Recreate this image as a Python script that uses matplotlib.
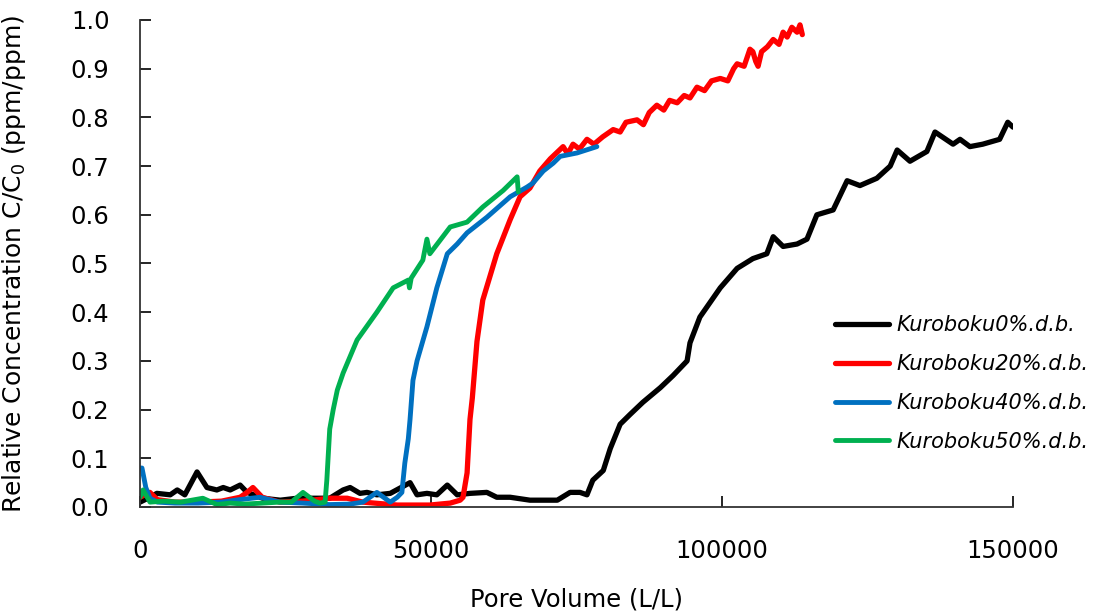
import matplotlib
matplotlib.use('Agg')
import matplotlib.pyplot as plt

# Kuroboku 0% d.b.
pv_0 = [0, 1700, 2900, 5200, 6400, 7700, 9800, 11500, 13200, 14300, 15500, 17200, 18400, 21100,
        24100, 27000, 30400, 32600, 34900, 36100, 37800, 39000, 40700, 43000, 46400, 47600, 49300,
        51000, 52800, 54500, 56700, 59600, 61300, 63600, 67000, 71700, 73900, 75600, 76800, 77800,
        79600, 80800, 82500, 84200, 86400, 89400, 91600, 94000, 94500, 96200, 99700, 102600, 105300,
        107700, 108800, 110500, 112900, 114600, 116300, 119100, 121500, 123700, 126600, 128900,
        130100, 132300, 135200, 136600, 139700, 140900, 142600, 144800, 147700, 149100, 150000]
c_0 = [0.01, 0.02, 0.028, 0.025, 0.035, 0.025, 0.072, 0.04, 0.035, 0.04, 0.035, 0.045, 0.03, 0.018,
       0.014, 0.018, 0.018, 0.018, 0.035, 0.04, 0.028, 0.03, 0.025, 0.028, 0.05, 0.025, 0.028,
       0.025, 0.045, 0.025, 0.028, 0.03, 0.02, 0.02, 0.014, 0.014, 0.03, 0.03, 0.025, 0.055,
       0.075, 0.12, 0.17, 0.19, 0.215, 0.245, 0.27, 0.30, 0.337, 0.39, 0.45, 0.49, 0.51,
       0.52, 0.555, 0.535, 0.54, 0.55, 0.60, 0.61, 0.67, 0.66, 0.675, 0.70,
       0.733, 0.71, 0.73, 0.77, 0.745, 0.755, 0.74, 0.745, 0.755, 0.79, 0.78]

# Kuroboku 20% d.b.
pv_20 = [0, 1700, 3000, 6000, 10000, 14000, 17200, 18400, 19400, 21000, 24000, 28000, 32600, 35600,
         38300, 44200, 49800, 53300, 55000, 55500, 56200, 56700, 57100, 57900, 58900, 61300, 63600,
         65300, 67000, 68700, 70500, 72700, 73500, 74400, 75500, 76800, 78000, 79500, 81300, 82500,
         83500, 85400, 86500, 87500, 88800, 90000, 91000, 92300, 93500, 94500, 95700, 97000, 98200,
         99700, 101000, 102000, 102600, 103800, 104800, 105300, 105800, 106200, 106800, 107800,
         108800, 109800, 110500, 111200, 112000, 112900, 113400, 113800]
c_20 = [0.02, 0.03, 0.015, 0.01, 0.01, 0.012, 0.02, 0.03, 0.04, 0.02, 0.01, 0.012, 0.018, 0.018,
        0.01, 0.004, 0.004, 0.008, 0.014, 0.02, 0.07, 0.18, 0.224, 0.34, 0.425, 0.52, 0.59,
        0.637, 0.655, 0.69, 0.715, 0.74, 0.725, 0.745, 0.735, 0.755, 0.745, 0.76, 0.775, 0.77,
        0.79, 0.795, 0.785, 0.81, 0.825, 0.815, 0.835, 0.83, 0.845, 0.84, 0.862, 0.855, 0.875,
        0.88, 0.875, 0.9, 0.91, 0.905, 0.94, 0.935, 0.915, 0.905, 0.935, 0.945,
        0.96, 0.95, 0.975, 0.965, 0.985, 0.975, 0.99, 0.97]

# Kuroboku 40% d.b.
pv_40 = [0, 340, 1000, 1720, 3000, 6000, 10000, 14000, 17000, 20600, 24000, 28000, 32600, 36100,
         38300, 40700, 43000, 44200, 45000, 45500, 46100, 46400, 46900, 47600, 49300, 51000, 52800,
         54500, 56200, 59600, 63600, 66500, 67500, 69300, 71000, 72200, 75100, 78500]
c_40 = [0.08, 0.08, 0.04, 0.018, 0.01, 0.008, 0.008, 0.01, 0.015, 0.02, 0.01, 0.008, 0.005, 0.006,
        0.01, 0.03, 0.01, 0.02, 0.03, 0.09, 0.14, 0.18, 0.26, 0.30, 0.37, 0.45, 0.52,
        0.54, 0.563, 0.595, 0.637, 0.657, 0.665, 0.69, 0.706, 0.72, 0.727, 0.74]

# Kuroboku 50% d.b.
pv_50 = [0, 520, 1720, 4000, 7000, 10800, 13200, 15500, 18000, 21000, 24000, 26000, 28000, 30000,
         30900, 31800, 32100, 32600, 33200, 33900, 34900, 37300, 40700, 43500, 46100, 46300, 46600,
         48600, 49300, 49800, 53300, 56200, 58900, 62400, 64800, 65000]
c_50 = [0.02, 0.035, 0.01, 0.012, 0.01, 0.018, 0.005, 0.008, 0.006, 0.008, 0.01, 0.01, 0.03, 0.012,
        0.008, 0.01, 0.055, 0.16, 0.20, 0.24, 0.275, 0.343, 0.40, 0.45, 0.466, 0.45, 0.47,
        0.507, 0.55, 0.52, 0.575, 0.585, 0.616, 0.65, 0.678, 0.647]

labels = ['Kuroboku0%.d.b.', 'Kuroboku20%.d.b.', 'Kuroboku40%.d.b.', 'Kuroboku50%.d.b.']
colors = ['#000000', '#FF0000', '#0070C0', '#00B050']

fig = plt.figure(figsize=(10.95, 6.13), dpi=100)
ax = fig.add_axes([140 / 1095, 1 - 507 / 613, 873 / 1095, 487 / 613])

ax.plot(pv_0, c_0, color=colors[0], lw=3.8, label=labels[0], solid_capstyle='round')
ax.plot(pv_20, c_20, color=colors[1], lw=3.8, label=labels[1], solid_capstyle='round')
ax.plot(pv_40, c_40, color=colors[2], lw=3.5, label=labels[2], solid_capstyle='round')
ax.plot(pv_50, c_50, color=colors[3], lw=3.5, label=labels[3], solid_capstyle='round')

ax.set_xlim(0, 150000)
ax.set_ylim(0, 1.0)
ax.set_xticks([0, 50000, 100000, 150000])
ax.set_xticklabels(['0', '50000', '100000', '150000'])
ax.set_yticks([i / 10 for i in range(11)])
ax.set_yticklabels(['%.1f' % (i / 10) for i in range(11)])
ax.tick_params(axis='both', direction='in', length=8, width=1.2, labelsize=17.5, colors='black')
ax.tick_params(axis='y', pad=22)
ax.tick_params(axis='x', pad=23)

for s in ['top', 'right']:
    ax.spines[s].set_visible(False)
for s in ['left', 'bottom']:
    ax.spines[s].set_linewidth(1.3)
    ax.spines[s].set_color('#333333')

ax.set_xlabel('Pore Volume (L/L)', fontsize=17.5)
ax.set_ylabel('Relative Concentration C/C$_0$ (ppm/ppm)', fontsize=18)
ax.xaxis.set_label_coords(0.5, -0.165)
ax.yaxis.set_label_coords(-0.128, 0.5)

leg = ax.legend(loc='center left', bbox_to_anchor=(835 / 1095, 1 - 383.5 / 613),
                bbox_transform=fig.transFigure, frameon=False, borderpad=0, borderaxespad=0,
                handlelength=2.6, handletextpad=0.35, labelspacing=0.9,
                prop={'size': 15, 'style': 'italic'})

fig.savefig('out.png', dpi=100)
